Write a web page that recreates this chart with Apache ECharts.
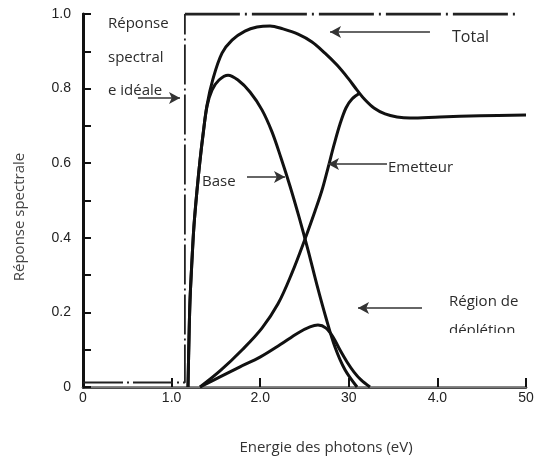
<!DOCTYPE html>
<html>
<head>
<meta charset="utf-8">
<script src="https://cdn.jsdelivr.net/npm/echarts@6/dist/echarts.min.js"></script>
<style>
  html, body { margin: 0; padding: 0; background: #fff; }
  #chart { width: 546px; height: 464px; }
</style>
</head>
<body>
<div id="chart"></div>
<script>
// x : énergie des photons (eV), y : réponse spectrale
var xTickLabels = ['0', '1.0', '2.0', '30', '4.0', '50'];
var yTickLabels = ['0', '0.2', '0.4', '0.6', '0.8', '1.0'];

// réponse idéale (marche)
var idealLow = [[0, 0.012], [1.15, 0.012], [1.15, 1.0]];
var idealTop = [[1.15, 1.0], [4.88, 1.0]];

var total = [
  [1.185, 0], [1.196, 0.126], [1.208, 0.233], [1.230, 0.340], [1.253, 0.434],
  [1.287, 0.528], [1.321, 0.608], [1.354, 0.675], [1.400, 0.756], [1.467, 0.826],
  [1.569, 0.895], [1.682, 0.930], [1.828, 0.954], [1.964, 0.965], [2.111, 0.968],
  [2.257, 0.960], [2.427, 0.946], [2.585, 0.925], [2.731, 0.895], [2.867, 0.863],
  [2.991, 0.828], [3.093, 0.796], [3.183, 0.770], [3.284, 0.748], [3.409, 0.732],
  [3.544, 0.724], [3.691, 0.721], [4.029, 0.724], [4.481, 0.727], [5.0, 0.729]
];
var base = [
  [1.185, 0], [1.196, 0.126], [1.208, 0.233], [1.230, 0.340], [1.253, 0.434],
  [1.287, 0.528], [1.321, 0.608], [1.354, 0.675], [1.400, 0.753], [1.456, 0.796],
  [1.535, 0.823], [1.637, 0.836], [1.749, 0.823], [1.885, 0.791], [2.020, 0.743],
  [2.133, 0.684], [2.235, 0.614], [2.336, 0.539], [2.438, 0.456], [2.540, 0.367],
  [2.641, 0.273], [2.743, 0.185], [2.844, 0.107], [2.957, 0.046], [3.093, 0]
];
var emetteur = [
  [1.321, 0], [1.546, 0.043], [1.806, 0.102], [2.020, 0.158], [2.201, 0.223],
  [2.359, 0.306], [2.506, 0.397], [2.619, 0.472], [2.698, 0.528], [2.765, 0.587],
  [2.833, 0.649], [2.901, 0.705], [2.968, 0.748], [3.036, 0.772], [3.126, 0.788]
];
var depletion = [
  [1.321, 0], [1.546, 0.027], [1.772, 0.054], [1.998, 0.080], [2.223, 0.113],
  [2.427, 0.145], [2.562, 0.161], [2.652, 0.166], [2.743, 0.158], [2.822, 0.134],
  [2.901, 0.099], [2.980, 0.067], [3.059, 0.040], [3.138, 0.019], [3.239, 0]
];
// flèches : [x départ, y départ, x pointe, y pointe]
var arrows = [
  [0.62, 0.775, 1.095, 0.775],
  [3.916, 0.952, 2.788, 0.952],
  [1.851, 0.563, 2.28, 0.563],
  [3.431, 0.598, 2.765, 0.598],
  [3.826, 0.212, 3.104, 0.212]
];

var chart = echarts.init(document.getElementById('chart'));

var txtFont = '"Open Sans", sans-serif';
var axisFont = '"Liberation Sans", Arial, sans-serif';

function curve(name, data) {
  return {
    name: name,
    type: 'line',
    data: data,
    smooth: 0.35,
    symbol: 'none',
    lineStyle: { color: '#111', width: 3 },
    z: 3
  };
}

function label(text, x, y, size) {
  return {
    type: 'text', x: x, y: y, z: 20,
    style: {
      text: text, fill: '#2b2b2b', fontSize: size || 15, fontFamily: txtFont,
      align: 'left', verticalAlign: 'middle'
    }
  };
}

chart.setOption({
  animation: false,
  backgroundColor: '#fff',
  grid: { left: 83, top: 14, width: 443, height: 373 },
  xAxis: [{
    type: 'value', min: 0, max: 5, interval: 1,
    axisLine: { show: true, onZero: false, lineStyle: { color: '#111', width: 2.5 } },
    axisTick: { show: true, inside: true, length: 9, lineStyle: { color: '#111', width: 2 } },
    axisLabel: {
      margin: 4, color: '#222', fontSize: 14, fontFamily: axisFont,
      formatter: function (v) { return xTickLabels[Math.round(v)]; }
    },
    splitLine: { show: false }
  }, {
    type: 'value', min: 0, max: 5, position: 'top', offset: 3,
    axisLine: { show: true, lineStyle: { color: '#9a9a9a', width: 1.5 } },
    axisTick: { show: false }, axisLabel: { show: false }, splitLine: { show: false }
  }],
  yAxis: [{
    type: 'value', min: 0, max: 1, interval: 0.2,
    axisLine: { show: true, onZero: false, lineStyle: { color: '#111', width: 3 } },
    axisTick: { show: true, inside: true, length: 8, lineStyle: { color: '#111', width: 2 } },
    minorTick: { show: true, splitNumber: 2, length: 8, lineStyle: { color: '#111', width: 2 } },
    axisLabel: {
      margin: 12, color: '#222', fontSize: 14, fontFamily: axisFont,
      formatter: function (v) { return yTickLabels[Math.round(v * 5)]; }
    },
    splitLine: { show: false }
  }, {
    type: 'value', min: 0, max: 1, position: 'right',
    axisLine: { show: true, lineStyle: { color: '#111', width: 2 } },
    axisTick: { show: false }, axisLabel: { show: false }, splitLine: { show: false }
  }],
  series: [
    {
      name: 'idéale bas', type: 'line', data: idealLow, symbol: 'none',
      lineStyle: { color: '#222', width: 1.8, type: [40, 4, 2, 4] }, z: 2
    },
    {
      name: 'idéale haut', type: 'line', data: idealTop, symbol: 'none',
      lineStyle: { color: '#222', width: 3, type: [55, 5, 2, 5] }, z: 2,
      markLine: {
        silent: true,
        symbol: ['none', 'arrow'],
        symbolSize: [9, 11],
        label: { show: false },
        lineStyle: { color: '#333', width: 1.5, type: 'solid' },
        data: arrows.map(function (a) {
          return [{ coord: [a[0], a[1]] }, { coord: [a[2], a[3]] }];
        })
      }
    },
    curve('Total', total),
    curve('Base', base),
    curve('Emetteur', emetteur),
    curve('Région de déplétion', depletion)
  ],
  graphic: [
    label('Réponse', 108, 24),
    label('spectral', 108, 58),
    label('e idéale', 108, 91),
    label('Total', 452, 37, 16),
    label('Base', 202, 182),
    label('Emetteur', 388, 168),
    label('Région de', 449, 302),
    label('déplétion', 449, 331),
    { type: 'rect', z: 21, shape: { x: 440, y: 333, width: 82, height: 16 }, style: { fill: '#fff' } },
    {
      type: 'text', x: 20, y: 217, rotation: Math.PI / 2, z: 20,
      style: {
        text: 'Réponse spectrale', fill: '#444', fontSize: 15, fontFamily: txtFont,
        align: 'center', verticalAlign: 'middle'
      }
    },
    {
      type: 'text', x: 326, y: 448, z: 20,
      style: {
        text: 'Energie des photons (eV)', fill: '#333', fontSize: 15, fontFamily: txtFont,
        align: 'center', verticalAlign: 'middle'
      }
    }
  ]
});
</script>
</body>
</html>
